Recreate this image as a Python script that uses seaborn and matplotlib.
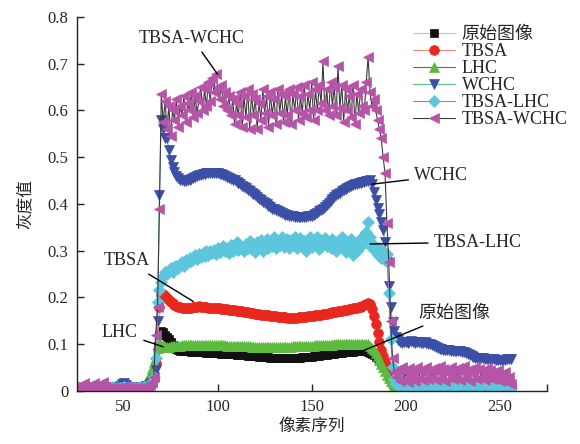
import numpy as np
import pandas as pd
import matplotlib
matplotlib.use("Agg")
import matplotlib.pyplot as plt
import seaborn as sns

# ---------------- data (pixel index 25..256) ----------------
x_start, x_end = 25, 256

orig = [
    0.008,0.008,0.009,0.008,0.007,0.008,0.009,0.008,0.008,0.007,
    0.008,0.008,0.009,0.008,0.008,0.007,0.008,0.009,0.008,0.008,
    0.008,0.007,0.008,0.008,0.009,0.008,0.008,0.008,0.007,0.008,
    0.008,0.009,0.008,0.008,0.008,0.009,0.010,0.011,0.013,0.016,
    0.022,0.035,0.060,
    0.095,0.120,0.128,0.125,0.120,0.115,0.110,0.105,0.098,0.093,
    0.089,0.087,0.086,0.085,0.085,0.084,0.084,0.084,0.083,0.083,
    0.083,0.083,0.082,0.082,0.082,0.082,0.081,0.081,0.081,0.081,
    0.080,0.080,0.080,0.080,0.079,0.079,0.079,0.079,0.078,0.078,
    0.078,0.078,0.077,0.077,0.077,0.076,0.076,0.076,0.075,0.075,
    0.075,0.074,0.074,0.074,0.073,0.073,0.073,0.072,0.072,0.072,
    0.071,0.071,0.071,0.071,0.070,0.070,0.070,0.070,0.070,0.070,
    0.070,0.070,0.070,0.071,0.071,0.071,0.071,0.072,0.072,0.072,
    0.073,0.073,0.073,0.074,0.074,0.075,0.075,0.076,0.076,0.077,
    0.077,0.078,0.078,0.079,0.079,0.080,0.080,0.081,0.081,0.082,
    0.082,0.082,0.083,0.083,0.083,0.084,0.084,0.084,0.085,0.085,
    0.085,0.084,0.083,0.081,0.079,0.076,0.073,0.070,0.066,0.062,
    0.058,0.053,0.047,0.040,0.032,0.024,0.017,0.012,
    0.010,0.009,0.009,0.008,0.008,0.008,0.009,0.008,0.008,0.008,
    0.009,0.008,0.008,0.008,0.009,0.008,0.008,0.008,0.008,0.009,
    0.008,0.008,0.008,0.009,0.008,0.008,0.008,0.008,0.009,0.008,
    0.008,0.008,0.009,0.008,0.008,0.008,0.008,0.009,0.008,0.008,
    0.008,0.009,0.008,0.008,0.008,0.008,0.009,0.008,0.008,0.008,
    0.009,0.008,0.008,0.008,0.008,0.009,0.008,0.008,0.008,0.008,
    0.008,
]

tbsa = [
    0.006,0.006,0.007,0.006,0.006,0.006,0.007,0.006,0.006,0.006,
    0.006,0.007,0.006,0.006,0.006,0.006,0.007,0.006,0.006,0.006,
    0.006,0.006,0.007,0.006,0.006,0.006,0.006,0.007,0.006,0.006,
    0.006,0.006,0.007,0.006,0.006,0.007,0.007,0.008,0.009,0.010,
    0.014,0.025,0.060,
    0.090,0.180,0.205,0.208,0.203,0.198,0.194,0.190,0.187,0.184,
    0.182,0.180,0.179,0.178,0.177,0.177,0.176,0.177,0.178,0.179,
    0.180,0.180,0.181,0.180,0.180,0.179,0.179,0.178,0.178,0.178,
    0.177,0.177,0.176,0.176,0.175,0.175,0.174,0.174,0.173,0.173,
    0.172,0.172,0.171,0.171,0.170,0.170,0.169,0.168,0.168,0.167,
    0.167,0.166,0.165,0.165,0.164,0.163,0.163,0.162,0.161,0.161,
    0.160,0.160,0.159,0.159,0.158,0.158,0.157,0.157,0.157,0.156,
    0.156,0.156,0.156,0.156,0.156,0.157,0.157,0.157,0.158,0.158,
    0.159,0.159,0.160,0.160,0.161,0.162,0.162,0.163,0.164,0.165,
    0.165,0.166,0.167,0.168,0.168,0.169,0.170,0.171,0.171,0.172,
    0.173,0.173,0.174,0.175,0.176,0.177,0.178,0.179,0.180,0.182,
    0.184,0.186,0.188,0.185,0.175,0.160,0.142,0.123,0.105,0.088,
    0.074,0.062,0.052,0.044,0.037,0.031,0.026,0.022,
    0.020,0.019,0.018,0.018,0.017,0.017,0.016,0.016,0.016,0.015,
    0.015,0.015,0.015,0.014,0.014,0.014,0.014,0.014,0.014,0.013,
    0.013,0.013,0.013,0.013,0.013,0.013,0.013,0.012,0.012,0.012,
    0.012,0.012,0.012,0.012,0.012,0.012,0.012,0.012,0.012,0.012,
    0.012,0.012,0.012,0.012,0.012,0.012,0.012,0.012,0.012,0.012,
    0.012,0.012,0.012,0.012,0.012,0.012,0.012,0.012,0.012,0.012,
    0.012,
]

lhc = [
    0.004,0.004,0.004,0.005,0.004,0.004,0.004,0.004,0.005,0.004,
    0.004,0.004,0.004,0.004,0.005,0.004,0.004,0.004,0.004,0.004,
    0.005,0.004,0.004,0.004,0.004,0.004,0.005,0.004,0.004,0.004,
    0.004,0.004,0.005,0.005,0.006,0.008,0.012,0.018,0.026,0.036,
    0.048,0.062,0.078,
    0.092,0.102,0.098,0.095,0.094,0.094,0.094,0.095,0.095,0.095,
    0.096,0.096,0.096,0.097,0.097,0.097,0.097,0.097,0.098,0.098,
    0.098,0.098,0.098,0.098,0.098,0.098,0.098,0.098,0.098,0.098,
    0.098,0.098,0.097,0.097,0.097,0.097,0.097,0.096,0.096,0.096,
    0.096,0.096,0.096,0.095,0.095,0.095,0.095,0.095,0.095,0.095,
    0.094,0.094,0.094,0.094,0.094,0.094,0.094,0.094,0.094,0.094,
    0.094,0.094,0.094,0.094,0.094,0.094,0.094,0.094,0.094,0.094,
    0.094,0.094,0.095,0.095,0.095,0.095,0.095,0.095,0.095,0.096,
    0.096,0.096,0.096,0.096,0.097,0.097,0.097,0.097,0.097,0.098,
    0.098,0.098,0.098,0.098,0.099,0.099,0.099,0.099,0.100,0.100,
    0.100,0.100,0.100,0.101,0.101,0.101,0.101,0.101,0.101,0.101,
    0.101,0.100,0.099,0.096,0.092,0.087,0.081,0.074,0.066,0.058,
    0.050,0.042,0.034,0.027,0.021,0.016,0.013,0.011,
    0.012,0.015,0.020,0.026,0.030,0.032,0.030,0.027,0.024,0.022,
    0.020,0.019,0.018,0.018,0.017,0.017,0.016,0.016,0.016,0.016,
    0.015,0.015,0.015,0.015,0.015,0.015,0.015,0.015,0.015,0.015,
    0.015,0.015,0.015,0.015,0.015,0.015,0.015,0.015,0.015,0.015,
    0.016,0.017,0.018,0.020,0.022,0.024,0.025,0.026,0.025,0.024,
    0.022,0.020,0.018,0.016,0.015,0.014,0.013,0.012,0.012,0.011,
    0.011,
]

wchc = [
    0.006,0.006,0.006,0.007,0.006,0.006,0.006,0.006,0.007,0.006,
    0.006,0.006,0.006,0.006,0.007,0.006,0.006,0.006,0.006,0.006,
    0.006,0.007,0.008,0.010,0.014,0.017,0.012,0.008,0.007,0.006,
    0.006,0.006,0.007,0.006,0.006,0.007,0.008,0.009,0.011,0.014,
    0.018,0.025,0.045,
    0.150,0.420,0.580,0.560,0.540,0.540,0.515,0.493,0.478,0.468,
    0.460,0.455,0.452,0.450,0.449,0.449,0.450,0.451,0.453,0.455,
    0.457,0.459,0.461,0.462,0.463,0.464,0.465,0.465,0.466,0.466,
    0.466,0.465,0.465,0.464,0.463,0.462,0.460,0.458,0.456,0.454,
    0.452,0.450,0.447,0.445,0.442,0.439,0.436,0.433,0.430,0.427,
    0.424,0.421,0.418,0.414,0.411,0.408,0.405,0.402,0.399,0.396,
    0.393,0.390,0.388,0.386,0.384,0.382,0.380,0.378,0.377,0.376,
    0.375,0.374,0.373,0.372,0.372,0.371,0.371,0.371,0.371,0.372,
    0.373,0.374,0.375,0.377,0.379,0.381,0.384,0.387,0.390,0.394,
    0.398,0.402,0.406,0.410,0.414,0.418,0.421,0.424,0.427,0.430,
    0.432,0.434,0.436,0.438,0.440,0.442,0.443,0.444,0.445,0.446,
    0.447,0.448,0.449,0.450,0.442,0.425,0.408,0.392,0.378,0.362,
    0.345,0.318,0.275,0.225,0.180,0.148,0.128,0.115,
    0.108,0.104,0.103,0.104,0.105,0.103,0.104,0.106,0.104,0.103,
    0.104,0.105,0.103,0.102,0.104,0.103,0.101,0.100,0.098,0.096,
    0.094,0.092,0.090,0.089,0.088,0.088,0.087,0.087,0.086,0.086,
    0.086,0.085,0.085,0.084,0.083,0.082,0.080,0.078,0.076,0.074,
    0.072,0.071,0.070,0.070,0.069,0.069,0.068,0.068,0.068,0.067,
    0.067,0.067,0.066,0.066,0.066,0.066,0.066,0.066,0.067,0.068,
    0.068,
]

tbsa_lhc = [
    0.006,0.006,0.006,0.006,0.007,0.006,0.006,0.006,0.006,0.006,
    0.006,0.006,0.007,0.006,0.006,0.006,0.006,0.006,0.006,0.007,
    0.006,0.006,0.006,0.006,0.006,0.007,0.006,0.006,0.006,0.006,
    0.006,0.006,0.006,0.007,0.006,0.006,0.007,0.008,0.010,0.013,
    0.018,0.030,0.070,
    0.190,0.215,0.232,0.245,0.255,0.250,0.258,0.262,0.255,0.265,
    0.268,0.262,0.272,0.275,0.268,0.280,0.276,0.285,0.278,0.282,
    0.290,0.283,0.292,0.286,0.295,0.288,0.298,0.290,0.300,0.294,
    0.302,0.293,0.305,0.296,0.300,0.310,0.298,0.306,0.295,0.312,
    0.300,0.308,0.318,0.302,0.312,0.305,0.298,0.315,0.306,0.320,
    0.304,0.312,0.296,0.318,0.308,0.322,0.300,0.314,0.325,0.306,
    0.318,0.310,0.328,0.305,0.320,0.312,0.330,0.308,0.316,0.325,
    0.306,0.322,0.312,0.330,0.305,0.318,0.326,0.310,0.320,0.300,
    0.315,0.328,0.308,0.320,0.312,0.330,0.304,0.322,0.315,0.326,
    0.310,0.318,0.305,0.325,0.312,0.300,0.320,0.308,0.328,0.314,
    0.296,0.318,0.305,0.325,0.290,0.315,0.300,0.322,0.310,0.330,
    0.318,0.340,0.362,0.330,0.305,0.312,0.298,0.290,0.305,0.285,
    0.300,0.280,0.292,0.210,0.110,0.050,0.025,0.015,
    0.012,0.010,0.009,0.008,0.008,0.007,0.007,0.007,0.006,0.006,
    0.006,0.006,0.006,0.006,0.006,0.006,0.006,0.006,0.006,0.006,
    0.006,0.006,0.006,0.006,0.006,0.006,0.006,0.006,0.006,0.006,
    0.006,0.006,0.006,0.006,0.006,0.006,0.006,0.006,0.006,0.006,
    0.006,0.006,0.006,0.006,0.006,0.006,0.006,0.006,0.006,0.006,
    0.006,0.006,0.006,0.006,0.006,0.006,0.006,0.006,0.006,0.006,
    0.006,
]

tbsa_wchc = [
    0.008,0.010,0.006,0.005,0.016,0.007,0.005,0.006,0.005,0.017,
    0.007,0.005,0.005,0.006,0.018,0.008,0.005,0.006,0.005,0.005,
    0.006,0.005,0.005,0.006,0.005,0.010,0.006,0.005,0.005,0.006,
    0.005,0.006,0.005,0.005,0.006,0.007,0.006,0.008,0.010,0.013,
    0.018,0.030,0.120,
    0.180,0.390,0.635,0.575,0.620,0.560,0.610,0.545,0.600,0.580,
    0.625,0.565,0.610,0.590,0.630,0.575,0.615,0.600,0.640,0.585,
    0.630,0.595,0.620,0.650,0.600,0.645,0.610,0.660,0.620,0.670,
    0.640,0.678,0.650,0.625,0.655,0.610,0.640,0.600,0.630,0.590,
    0.625,0.570,0.615,0.590,0.640,0.565,0.630,0.585,0.645,0.560,
    0.635,0.590,0.625,0.560,0.615,0.580,0.645,0.595,0.630,0.565,
    0.640,0.590,0.625,0.570,0.645,0.595,0.635,0.575,0.630,0.590,
    0.645,0.570,0.635,0.600,0.650,0.580,0.630,0.595,0.655,0.585,
    0.635,0.600,0.660,0.580,0.645,0.600,0.655,0.615,0.705,0.600,
    0.645,0.590,0.660,0.610,0.650,0.590,0.695,0.605,0.655,0.575,
    0.645,0.600,0.630,0.585,0.655,0.570,0.635,0.595,0.645,0.610,
    0.600,0.660,0.715,0.640,0.610,0.625,0.600,0.580,0.560,0.540,
    0.500,0.465,0.360,0.275,0.150,0.070,0.040,0.030,
    0.045,0.020,0.050,0.025,0.040,0.018,0.048,0.030,0.042,0.020,
    0.050,0.028,0.045,0.022,0.038,0.050,0.025,0.044,0.030,0.048,
    0.022,0.040,0.052,0.028,0.046,0.020,0.042,0.035,0.050,0.025,
    0.045,0.030,0.048,0.022,0.040,0.052,0.028,0.045,0.020,0.042,
    0.035,0.050,0.025,0.046,0.030,0.040,0.022,0.048,0.032,0.045,
    0.025,0.040,0.030,0.045,0.020,0.035,0.028,0.040,0.018,0.030,
    0.015,
]

series_names = ["原始图像", "TBSA", "LHC", "WCHC", "TBSA-LHC", "TBSA-WCHC"]
x_ticks = [50, 100, 150, 200, 250]
y_ticks = [0, 0.1, 0.2, 0.3, 0.4, 0.5, 0.6, 0.7, 0.8]
y_tick_labels = ["0", "0.1", "0.2", "0.3", "0.4", "0.5", "0.6", "0.7", "0.8"]

# ---------------- style ----------------
sns.set_style("ticks")
plt.rcParams["font.family"] = ["Liberation Serif", "Noto Sans CJK SC"]
plt.rcParams["axes.unicode_minus"] = False

xs = np.arange(x_start, x_end + 1)
all_vals = [orig, tbsa, lhc, wchc, tbsa_lhc, tbsa_wchc]
df = pd.DataFrame({"x": xs})
for name, vals in zip(series_names, all_vals):
    df[name] = vals

styles = {
    "原始图像":  dict(line="#8fd6e6", face="#111111", marker="s", ms=5.5),
    "TBSA":      dict(line="#f28a80", face="#e8281e", marker="o", ms=7),
    "LHC":       dict(line="#4f60c0", face="#5cbb3c", marker="^", ms=7),
    "WCHC":      dict(line="#5cc08c", face="#3b4fa6", marker="v", ms=7),
    "TBSA-LHC":  dict(line="#b06ed0", face="#5cc6dc", marker="D", ms=6),
    "TBSA-WCHC": dict(line="#3a3a3a", face="#b654a8", marker="<", ms=7),
}

fig = plt.figure(figsize=(5.8, 4.44), dpi=100)
ax = fig.add_axes([76.7 / 580, 1 - 390.7 / 444, (546.7 - 76.7) / 580, (390.7 - 17) / 444])

for name in series_names:
    st = styles[name]
    sns.lineplot(data=df, x="x", y=name, ax=ax, color=st["line"], linewidth=0.8,
                 marker=st["marker"], markersize=st["ms"],
                 markerfacecolor=st["face"], markeredgecolor=st["face"],
                 markeredgewidth=0.5, label=name, clip_on=True)

ax.set_xlim(25, 275)
ax.set_ylim(0, 0.8)
ax.set_xticks(x_ticks)
ax.set_xticks([275], minor=True)
ax.set_yticks(y_ticks)
ax.set_yticklabels(y_tick_labels)
for s in ["top", "right"]:
    ax.spines[s].set_visible(False)
for s in ["left", "bottom"]:
    ax.spines[s].set_linewidth(1.0)
    ax.spines[s].set_color("#222222")
ax.tick_params(axis="both", which="both", direction="in", length=5, width=1.0,
               labelsize=12, pad=6, color="#222222")

ax.set_xlabel("像素序列", fontsize=12, labelpad=3)
ax.set_ylabel("灰度值", fontsize=12, labelpad=10)

leg = ax.legend(loc="upper left", bbox_to_anchor=(413 / 580, 1 - 26 / 444),
                bbox_transform=fig.transFigure, frameon=False, fontsize=13,
                handlelength=2.3, handletextpad=0.4, labelspacing=0.0,
                borderpad=0.0, borderaxespad=0.0)

ann_kw = dict(fontsize=13, ha="center", va="center",
              arrowprops=dict(arrowstyle="-", color="black", lw=1.0,
                              shrinkA=2, shrinkB=0))
ax.annotate("TBSA-WCHC", xy=(100, 0.677), xytext=(86.3, 0.755), **ann_kw)
ax.annotate("WCHC", xy=(182, 0.442), xytext=(219, 0.460), **ann_kw)
ax.annotate("TBSA-LHC", xy=(181, 0.314), xytext=(238.5, 0.318), **ann_kw)
ax.annotate("TBSA", xy=(87, 0.191), xytext=(51.8, 0.278), **ann_kw)
ax.annotate("LHC", xy=(71, 0.094), xytext=(48, 0.125), **ann_kw)
ax.annotate("原始图像", xy=(175.7, 0.083), xytext=(225.7, 0.166), **ann_kw)

fig.savefig("out.png", dpi=100)
